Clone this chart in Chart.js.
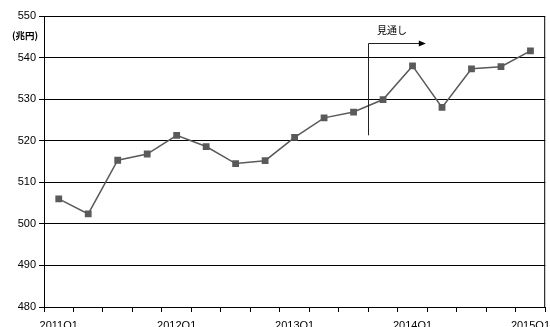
<!DOCTYPE html>
<html lang="ja">
  <head>
    <meta charset="UTF-8" />
    <title>名目GDP 見通し</title>
    <script src="https://cdn.jsdelivr.net/npm/chart.js"></script>
    <style>
      html, body { margin: 0; padding: 0; background: #fff; }
      #wrap { position: relative; width: 550px; height: 327px; }
    </style>
  </head>

  <body>
    <div id="wrap">
      <canvas id="gdpChart"></canvas>
    </div>

    <script>
      const quarters = [
        "2011Q1", "2011Q2", "2011Q3", "2011Q4",
        "2012Q1", "2012Q2", "2012Q3", "2012Q4",
        "2013Q1", "2013Q2", "2013Q3", "2013Q4",
        "2014Q1", "2014Q2", "2014Q3", "2014Q4",
        "2015Q1",
      ];
      const gdp = [
        506.0, 502.4, 515.3, 516.8,
        521.3, 518.6, 514.5, 515.2,
        520.8, 525.5, 526.9, 529.9,
        538.0, 528.0, 537.3, 537.8,
        541.6,
      ];
      const shownTicks = ["2011Q1", "2012Q1", "2013Q1", "2014Q1", "2015Q1"];

      const ink = "#000";
      const lineGray = "#5a5a5a";
      const latin = "'Liberation Sans', Arial, sans-serif";
      const jp = "'Noto Sans CJK JP', sans-serif";

      // frame around the plot, unit caption and the forecast arrow
      const extras = {
        id: "extras",
        afterDraw(chart) {
          const { ctx, chartArea: a, scales } = chart;
          const x = scales.x, y = scales.y;
          ctx.save();
          ctx.strokeStyle = ink;
          ctx.lineWidth = 1;
          ctx.strokeRect(a.left + 0.5, a.top + 0.5, a.right - a.left - 1, a.bottom - a.top);

          ctx.fillStyle = ink;
          ctx.font = "bold 9.5px " + jp;
          ctx.textAlign = "left";
          ctx.textBaseline = "middle";
          ctx.fillText("(兆円)", 12, 35);

          const x0 = Math.round(x.getPixelForValue(10.5)) + 0.5;
          const x1 = x.getPixelForValue(12.45);
          const yTop = Math.round(y.getPixelForValue(543.6)) + 0.5;
          const yBot = y.getPixelForValue(521.3);
          ctx.lineWidth = 1;
          ctx.strokeStyle = "#222";
          ctx.beginPath();
          ctx.moveTo(x0, yBot);
          ctx.lineTo(x0, yTop);
          ctx.lineTo(x1 - 6, yTop);
          ctx.stroke();
          ctx.beginPath();
          ctx.moveTo(x1, yTop);
          ctx.lineTo(x1 - 7, yTop - 3);
          ctx.lineTo(x1 - 7, yTop + 3);
          ctx.closePath();
          ctx.fill();

          ctx.font = "10px " + jp;
          ctx.textAlign = "center";
          ctx.fillText("見通し", x.getPixelForValue(11.3), y.getPixelForValue(546.7));
          ctx.restore();
        },
      };

      new Chart(document.getElementById("gdpChart"), {
        type: "line",
        data: {
          labels: quarters,
          datasets: [
            {
              data: gdp,
              borderColor: lineGray,
              borderWidth: 1.5,
              pointStyle: "rect",
              pointRadius: 4.8,
              pointBackgroundColor: lineGray,
              pointBorderColor: lineGray,
              pointBorderWidth: 0,
              tension: 0,
            },
          ],
        },
        options: {
          responsive: true,
          maintainAspectRatio: false,
          animation: false,
          layout: { padding: { top: 16, right: 2, left: 0, bottom: 0 } },
          plugins: {
            legend: { display: false },
            tooltip: { enabled: false },
          },
          scales: {
            x: {
              offset: true,
              grid: {
                offset: true,
                drawOnChartArea: false,
                drawTicks: true,
                tickLength: 5,
                color: ink,
              },
              border: { color: ink },
              ticks: {
                autoSkip: false,
                maxRotation: 0,
                padding: 7,
                color: ink,
                font: { family: latin, size: 11 },
                callback(v, i) {
                  const q = quarters[i];
                  return shownTicks.includes(q) ? q : "";
                },
              },
              afterFit(s) {
                s.height = 20;
                s.paddingLeft = 0;
                s.paddingRight = 0;
              },
            },
            y: {
              min: 480,
              max: 550,
              grid: { color: ink, tickLength: 5, lineWidth: 1 },
              border: { color: ink },
              ticks: {
                stepSize: 10,
                padding: 3,
                color: ink,
                font: { family: latin, size: 11 },
              },
              afterFit(s) {
                s.width = 44;
              },
            },
          },
        },
        plugins: [extras],
      });
    </script>
  </body>
</html>
